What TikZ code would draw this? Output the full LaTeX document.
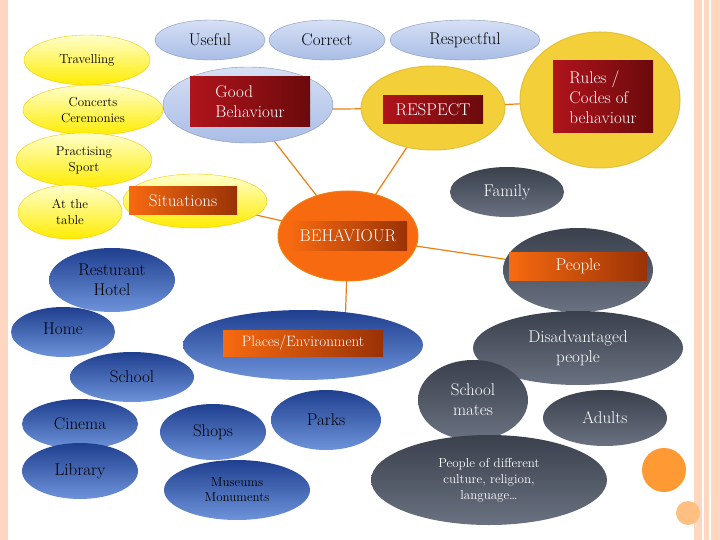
\documentclass[tikz,border=0pt]{standalone}
\usetikzlibrary{shapes.geometric}
\definecolor{lbT}{HTML}{D6E0F5}
\definecolor{lbB}{HTML}{A9BDE6}
\definecolor{dbT}{HTML}{1F3F8F}
\definecolor{dbB}{HTML}{6E93DA}
\definecolor{dkT}{HTML}{3A404C}
\definecolor{dkB}{HTML}{6A7180}
\definecolor{gold}{HTML}{F3CF3A}
\definecolor{rbL}{HTML}{B0141C}
\definecolor{rbR}{HTML}{6A0A0C}
\definecolor{obL}{HTML}{F76A10}
\definecolor{obR}{HTML}{9A3206}
\begin{document}
\begin{tikzpicture}[x=1pt,y=-1pt,
  el/.style={ellipse,minimum width=#1,inner sep=0pt},
  lb/.style={draw=lbB!80!black,top color=lbT,bottom color=lbB,align=center,font=\fontsize{17}{19}\selectfont},
  yl/.style={draw=yellow!60!orange,top color=yellow!20,bottom color=yellow!85!orange,align=center,font=\fontsize{13}{16}\selectfont},
  gd/.style={draw=yellow!50!brown,line width=1pt,fill=gold},
  db/.style={top color=dbT,bottom color=dbB,text=black,align=center,font=\fontsize{17}{20}\selectfont},
  dk/.style={top color=dkT,bottom color=dkB,text=white,align=center,font=\fontsize{17}{20}\selectfont},
  og/.style={draw=orange!70!brown,line width=1pt,fill=obL},
  rb/.style={rectangle,left color=rbL,right color=rbR,text=white,align=left,font=\fontsize{17}{20}\selectfont,inner sep=3pt},
  ob/.style={rectangle,left color=obL,right color=obR,text=white,align=center,font=\fontsize{17}{20}\selectfont,inner sep=3pt},
  ln/.style={draw=orange!70!brown,line width=1.2pt}]
\useasboundingbox (0,0) rectangle (720,540);
\fill[white] (0,0) rectangle (720,540);
\fill[red!30!orange!25] (0,0) rectangle (8,540);
\fill[red!30!orange!25] (694,0) rectangle (720,540);
\fill[white] (702,0) rectangle (704,540);
\fill[white] (709,0) rectangle (711,540);
\coordinate (cB) at (348,236);
\coordinate (cG) at (250,110);
\coordinate (cR) at (433,108);
\coordinate (cRu) at (600,100);
\coordinate (cS) at (195,201);
\coordinate (cP) at (578,270);
\draw[ln] (cB) -- (cG);
\draw[ln] (cB) -- (cR);
\draw[ln] (cG) -- (cR);
\draw[ln] (cR) -- (cRu);
\draw[ln] (cB) -- (cS);
\draw[ln] (cB) -- (cP);
\draw[ln] (cB) -- (345,330);
\node[el=110pt,minimum height=40pt,lb] (useful) at (210,40) {Useful};
\node[el=116pt,minimum height=40pt,lb] (correct) at (327,40) {Correct};
\node[el=150pt,minimum height=40pt,lb] (respectful) at (465,40) {Respectful};
\node[el=126pt,minimum height=50pt,yl] (trav) at (87,60) {Travelling};
\node[el=140pt,minimum height=50pt,yl] (conc) at (93,110) {Concerts\\Ceremonies};
\node[el=136pt,minimum height=54pt,yl] (prac) at (84,160) {Practising\\Sport};
\node[el=104pt,minimum height=54pt,yl] (table) at (70,212) {At the\\table};
\node[el=170pt,minimum height=76pt,lb] (gbe) at (248,105) {};
\node[rb,minimum width=120pt,minimum height=50pt] (gb) at (250,102) {Good\\Behaviour};
\node[el=144pt,minimum height=84pt,gd] (re) at (433,108) {};
\node[rb,minimum width=100pt,minimum height=28pt] (resp) at (433,110) {RESPECT};
\node[el=160pt,minimum height=136pt,gd] (rue) at (600,100) {};
\node[rb,minimum width=100pt,minimum height=72pt] (rules) at (603,97) {Rules /\\Codes of\\behaviour};
\node[el=144pt,minimum height=54pt,yl] (sie) at (195,201) {};
\node[ob,minimum width=108pt,minimum height=28pt] (sit) at (183,201) {Situations};
\node[el=114pt,minimum height=50pt,dk] (family) at (507,192) {Family};
\node[el=140pt,minimum height=90pt,og] (be) at (348,236) {};
\node[ob,minimum width=118pt,minimum height=28pt] (beh) at (348,236) {BEHAVIOUR};
\node[el=150pt,minimum height=84pt,dk] (pe) at (578,270) {};
\node[ob,minimum width=138pt,minimum height=28pt] (people) at (578,266) {People};
\node[el=126pt,minimum height=64pt,db] (rest) at (112,280) {Resturant\\Hotel};
\node[el=104pt,minimum height=50pt,db] (home) at (63,332) {\raisebox{6pt}{Home}};
\node[el=240pt,minimum height=70pt,db] (ple) at (303,345) {};
\node[ob,minimum width=160pt,minimum height=26pt,font=\fontsize{15}{17}\selectfont] (places) at (303,343) {Places/Environment};
\node[el=210pt,minimum height=74pt,dk] (dis) at (578,348) {Disadvantaged\\people};
\node[el=124pt,minimum height=50pt,db] (school) at (132,377) {School};
\node[el=110pt,minimum height=80pt,dk] (smates) at (473,400) {School\\mates};
\node[el=116pt,minimum height=50pt,db] (cinema) at (80,424) {Cinema};
\node[el=106pt,minimum height=56pt,db] (shops) at (213,432) {Shops};
\node[el=110pt,minimum height=60pt,db] (parks) at (326,420) {Parks};
\node[el=124pt,minimum height=56pt,dk] (adults) at (605,418) {Adults};
\node[el=116pt,minimum height=56pt,db] (library) at (80,471) {Library};
\node[el=146pt,minimum height=60pt,db,font=\fontsize{13}{15}\selectfont] (museums) at (237,490) {Museums\\Monuments};
\node[el=236pt,minimum height=90pt,dk,font=\fontsize{13}{16}\selectfont] (pdiff) at (489,480) {People of different\\culture, religion,\\language…};
\fill[orange!80] (664,470) circle (22);
\fill[orange!50] (688,513) circle (12);
\end{tikzpicture}
\end{document}
